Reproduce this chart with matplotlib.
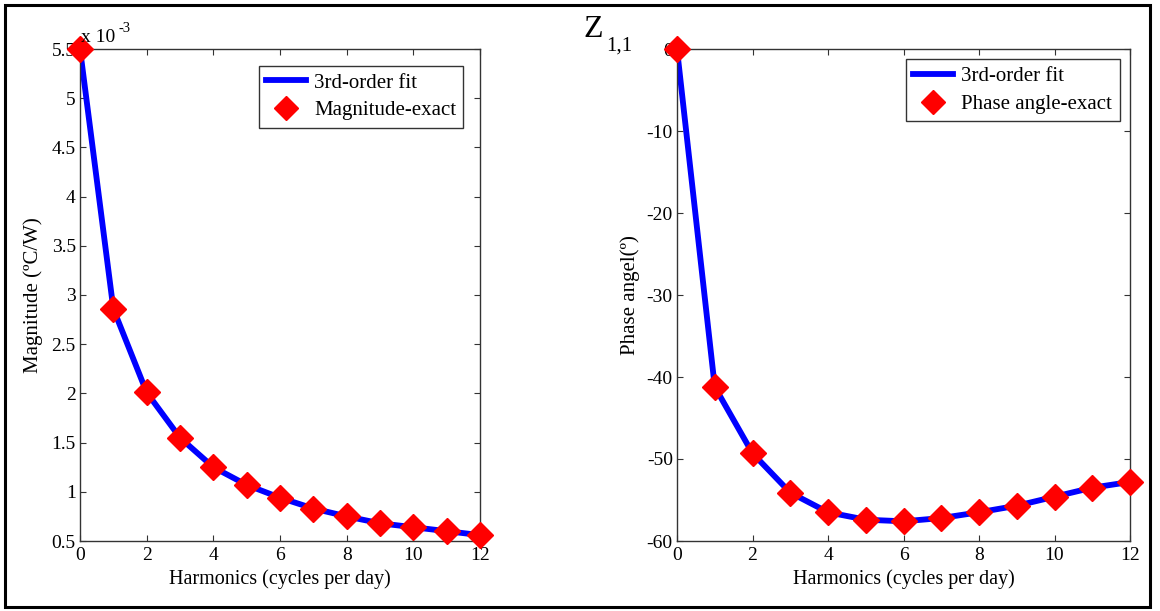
import numpy as np
import matplotlib.pyplot as plt
from matplotlib.patches import Rectangle
from matplotlib.ticker import FuncFormatter

plt.rcParams['font.family'] = ['Liberation Serif', 'DejaVu Serif']
plt.rcParams['axes.unicode_minus'] = False

harmonics = np.arange(0, 13)
# magnitude in degC/W
magnitude = np.array([5.50, 2.86, 2.01, 1.55, 1.25, 1.07, 0.94, 0.83, 0.75,
                      0.68, 0.64, 0.60, 0.56]) * 1e-3
# phase angle in degrees
phase = np.array([0.0, -41.2, -49.3, -54.1, -56.5, -57.4, -57.6, -57.2,
                  -56.5, -55.7, -54.6, -53.5, -52.8])

W, H = 1160, 611
fig = plt.figure(figsize=(W/100, H/100), dpi=100)
ax1 = fig.add_axes([80/W, 1-541/H, 400/W, 492/H])
ax2 = fig.add_axes([677/W, 1-541/H, 453/W, 492/H])

# frame round the whole figure
fig.patches.append(Rectangle((5/W, 4/H), 1145/W, 602/H,
                             transform=fig.transFigure, fill=False,
                             edgecolor='black', linewidth=2.2))

def style(ax):
    ax.tick_params(direction='in', top=True, right=True, length=4,
                   labelsize=14, pad=3, color='#333333')
    ax.tick_params(axis='x', pad=4)
    for s in ax.spines.values():
        s.set_color('#333333')
        s.set_linewidth(1.0)
    ax.set_xlim(0, 12)
    ax.set_xticks(range(0, 13, 2))
    ax.set_xlabel('Harmonics (cycles per day)', fontsize=14.5, labelpad=4)

def add_legend(ax, pad):
    leg = ax.legend(loc='upper right', fontsize=15, frameon=True,
                    fancybox=False, edgecolor='black', borderaxespad=pad,
                    handlelength=1.9, labelspacing=0.4, borderpad=0.35,
                    handletextpad=0.4, markerscale=0.95)
    leg.get_frame().set_linewidth(1.0)

ax1.plot(harmonics, magnitude, color='blue', linewidth=4.2,
         label='3rd-order fit', zorder=2)
ax1.plot(harmonics, magnitude, linestyle='none', marker='D', color='red',
         markersize=13, label='Magnitude-exact', zorder=3, clip_on=False)
style(ax1)
ax1.set_ylim(0.5e-3, 5.5e-3)
ax1.set_yticks(np.arange(0.5, 5.51, 0.5) * 1e-3)
ax1.yaxis.set_major_formatter(FuncFormatter(lambda v, p: '%g' % round(v*1e3, 2)))
ax1.set_ylabel('Magnitude (ºC/W)', fontsize=15, labelpad=6)
ax1.annotate('x 10', xy=(0, 1), xycoords='axes fraction', xytext=(1, 2),
             textcoords='offset points', fontsize=14, ha='left', va='bottom')
ax1.annotate('-3', xy=(0, 1), xycoords='axes fraction', xytext=(28, 10),
             textcoords='offset points', fontsize=10.5, ha='left', va='bottom')
add_legend(ax1, 0.8)

ax2.plot(harmonics, phase, color='blue', linewidth=4.2,
         label='3rd-order fit', zorder=2)
ax2.plot(harmonics, phase, linestyle='none', marker='D', color='red',
         markersize=13, label='Phase angle-exact', zorder=3, clip_on=False)
style(ax2)
ax2.set_ylim(-60, 0)
ax2.set_yticks(range(-60, 1, 10))
ax2.set_ylabel('Phase angel(º)', fontsize=15, labelpad=5)
add_legend(ax2, 0.5)

# figure title Z_{1,1}
fig.text(583/W, 1-37/H, 'Z', fontsize=23, ha='left', va='baseline')
fig.text(606/W, 1-51/H, '1,1', fontsize=15, ha='left', va='baseline')

fig.savefig('out.png', dpi=100)
